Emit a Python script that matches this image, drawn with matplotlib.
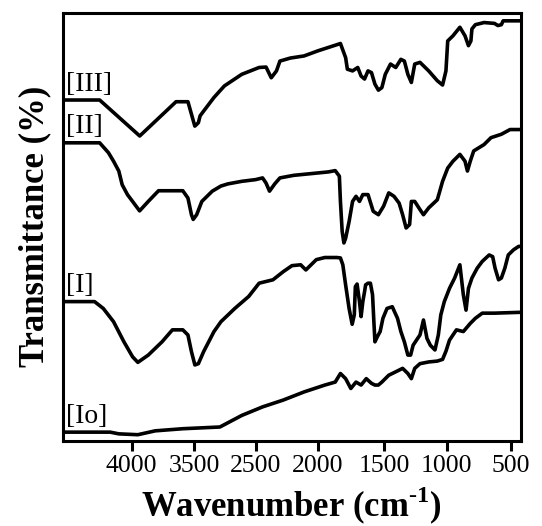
import numpy as np
import matplotlib
matplotlib.use('Agg')
import matplotlib.pyplot as plt

plt.rcParams['font.family'] = ['Liberation Serif', 'DejaVu Serif']
plt.rcParams['mathtext.fontset'] = 'custom'
plt.rcParams['mathtext.rm'] = 'Liberation Serif'
plt.rcParams['mathtext.bf'] = 'Liberation Serif:bold'

# ---- tick labels as printed on the figure (3000 is not printed) ----
tick_values = [4000, 3500, 2500, 2000, 1500, 1000, 500]
tick_labels = ['4000', '3500', '2500', '2000', '1500', '1000', '500']
# horizontal position (px) of each printed tick in the figure
tick_px = [131.7, 194.3, 255.7, 317.7, 384.3, 446.7, 510.7]

# ---- spectra: wavenumber (cm-1) and transmittance (a.u., 0-100) ----
w_III = [4550, 4255, 3935, 3645, 3550, 3490, 3432, 3404, 3347, 3178, 3008, 2726,
         2472, 2416, 2374, 2332, 2304, 2221, 2109, 1997, 1868, 1829, 1790, 1777,
         1738, 1699, 1674, 1648, 1622, 1596, 1570, 1544, 1518, 1492, 1450, 1408,
         1367, 1339, 1311, 1283, 1256, 1214, 1144, 1075, 1033, 1006, 992, 951,
         897, 857, 830, 811, 803, 776, 708, 627, 600, 573, 559, 422]
t_III = [79.6, 79.6, 71.2, 79.2, 79.2, 73.5, 74.3, 75.9, 77.0, 80.2, 82.9, 85.6,
         87.2, 87.3, 84.8, 86.4, 88.7, 89.4, 89.9, 91.1, 92.4, 92.8, 89.5, 86.8,
         86.4, 87.2, 85.2, 84.5, 86.4, 86.0, 83.3, 81.9, 82.5, 85.6, 88.0, 87.2,
         89.1, 88.7, 85.6, 83.7, 88.0, 88.4, 86.4, 84.1, 83.1, 86.4, 93.4, 94.6,
         96.6, 94.6, 92.3, 93.4, 96.2, 97.2, 97.7, 97.5, 97.0, 97.2, 98.1, 98.1]

w_II = [4550, 4255, 4185, 4144, 4102, 4075, 4033, 3992, 3936, 3867, 3785, 3757,
        3591, 3550, 3522, 3508, 3460, 3376, 3291, 3206, 3065, 2952, 2726, 2500,
        2444, 2416, 2388, 2346, 2304, 2193, 2053, 1920, 1868, 1837, 1829, 1816,
        1803, 1790, 1764, 1738, 1712, 1686, 1661, 1622, 1583, 1544, 1505, 1464,
        1422, 1381, 1353, 1325, 1297, 1283, 1256, 1214, 1186, 1144, 1075, 1033,
        992, 951, 897, 857, 838, 816, 789, 708, 654, 573, 505, 422]
t_II = [69.6, 69.6, 67.3, 65.3, 63.0, 59.8, 57.5, 55.9, 53.7, 55.9, 58.4, 58.4,
        58.4, 56.7, 52.8, 51.7, 52.8, 55.9, 57.1, 58.3, 59.5, 60.0, 60.6, 61.0,
        61.4, 60.2, 58.3, 60.0, 61.4, 62.0, 62.4, 62.8, 63.1, 61.8, 55.9, 48.9,
        46.2, 47.3, 51.2, 55.9, 57.1, 55.9, 57.5, 57.5, 53.6, 52.8, 54.8, 57.9,
        57.1, 55.5, 52.8, 49.7, 50.5, 55.9, 55.9, 54.0, 52.8, 54.4, 56.3, 60.6,
        63.7, 65.3, 66.9, 65.3, 63.0, 65.3, 67.7, 69.2, 70.8, 71.6, 72.7, 72.7]

w_I = [4550, 4296, 4226, 4144, 4061, 3992, 3950, 3867, 3757, 3674, 3591, 3550,
       3522, 3489, 3432, 3347, 3178, 3065, 2839, 2613, 2472, 2360, 2277, 2207,
       2137, 2095, 2053, 2011, 1946, 1855, 1829, 1811, 1790, 1764, 1741, 1725,
       1717, 1704, 1686, 1674, 1661, 1648, 1640, 1622, 1604, 1588, 1578, 1570,
       1552, 1531, 1510, 1478, 1436, 1394, 1367, 1339, 1311, 1289, 1269, 1242,
       1214, 1186, 1158, 1131, 1094, 1067, 1047, 1019, 978, 938, 897, 870,
       849, 830, 803, 762, 722, 668, 641, 622, 595, 573, 546, 519, 478, 438, 422]
t_I = [32.5, 32.5, 30.9, 27.8, 23.1, 19.6, 18.3, 20.0, 23.1, 25.9, 25.9, 24.7,
       20.8, 17.7, 18.0, 20.8, 25.5, 27.8, 30.9, 33.7, 36.8, 37.6, 39.5, 40.9,
       41.1, 39.9, 41.1, 42.3, 42.8, 42.8, 42.7, 41.1, 36.4, 30.9, 27.2, 29.4,
       36.0, 36.6, 32.5, 29.0, 32.5, 34.8, 36.4, 36.8, 36.8, 34.1, 27.8, 23.1,
       24.3, 25.5, 28.6, 30.9, 31.3, 28.6, 25.5, 23.1, 20.0, 20.0, 22.3, 23.5,
       24.7, 28.2, 23.9, 22.3, 21.2, 24.7, 29.4, 32.5, 35.6, 38.0, 41.1, 34.1,
       30.5, 35.6, 38.0, 40.3, 41.9, 43.4, 43.0, 40.3, 37.6, 38.0, 40.3, 43.4,
       44.6, 45.4, 45.4]

w_Io = [4550, 4171, 4102, 3950, 3812, 3591, 3082, 2726, 2444, 2277, 2109, 1946,
        1868, 1829, 1790, 1751, 1712, 1674, 1635, 1596, 1570, 1544, 1518, 1464,
        1408, 1353, 1311, 1283, 1256, 1214, 1144, 1075, 1033, 1006, 978, 924,
        870, 816, 776, 722, 627, 422]
t_Io = [2.0, 2.0, 1.6, 1.4, 2.3, 2.8, 3.2, 5.9, 7.9, 9.5, 11.4, 13.0,
        13.7, 15.7, 14.5, 12.2, 13.7, 13.0, 14.5, 13.4, 13.0, 13.0, 13.7, 15.3,
        16.1, 16.9, 15.7, 14.5, 16.9, 18.0, 18.4, 18.6, 19.0, 20.9, 23.5, 25.9,
        25.5, 27.4, 28.6, 29.8, 29.8, 30.0]

names = ['[III]', '[II]', '[I]', '[Io]']
spectra = [(w_III, t_III), (w_II, t_II), (w_I, t_I), (w_Io, t_Io)]

# printed axis is piecewise: map wavenumber -> horizontal position
slope_l = (tick_px[1] - tick_px[0]) / 500.0
slope_r = (tick_px[-1] - tick_px[-2]) / 500.0
knot_w = [5000] + tick_values + [0]
knot_p = [tick_px[0] - 1000 * slope_l] + tick_px + [tick_px[-1] + 500 * slope_r]


def to_pos(w):
    return np.interp(-np.asarray(w, float), -np.array(knot_w, float), knot_p)


fig = plt.figure(figsize=(5.42, 5.26), dpi=100)
ax = fig.add_axes([62.7 / 542, 1 - 440.7 / 526, 458 / 542, 428 / 526])

for name, (w, t) in zip(names, spectra):
    ax.plot(to_pos(w), t, color='black', linewidth=2.6, solid_joinstyle='round')
    ax.text(to_pos(4550) + 3.5, t[0] + 0.8, name, fontsize=20,
            ha='left', va='bottom')

ax.set_xlim(to_pos(4550), to_pos(422))
ax.set_ylim(0, 100)
ax.set_xticks(to_pos(tick_values))
ax.set_xticklabels(tick_labels, fontsize=18.5)
ax.set_yticks([])
ax.tick_params(axis='x', direction='out', length=7, width=2.2, pad=3)
for sp in ax.spines.values():
    sp.set_linewidth(2.2)

ax.set_xlabel(r'Wavenumber (cm$^{\mathbf{\text{-}1}}$)', fontsize=25,
              fontweight='bold', labelpad=6)
ax.set_ylabel('Transmittance (%)', fontsize=25, fontweight='bold', labelpad=8)

plt.savefig('out.png', dpi=100)
